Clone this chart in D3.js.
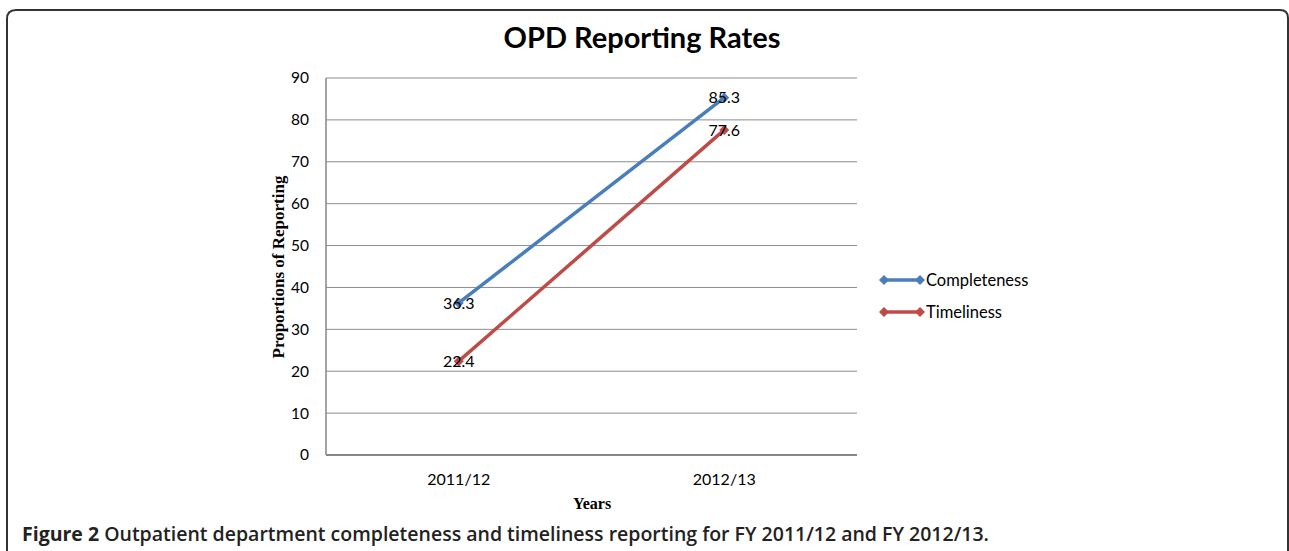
<!DOCTYPE html>
<html>
<head>
<meta charset="utf-8">
<script src="https://cdn.jsdelivr.net/npm/d3@7"></script>
<style>
  body { margin: 0; background: #fff; }
</style>
</head>
<body>
<svg id="chart" width="1289" height="551"></svg>
<script>
// chart data
var years = ["2011/12", "2012/13"];
var seriesNames = ["Completeness", "Timeliness"];
var completeness = [36.3, 85.3];
var timeliness = [22.4, 77.6];
var yTicks = [0, 10, 20, 30, 40, 50, 60, 70, 80, 90];
var colors = ["#4A7EBB", "#BE4B48"];

var svg = d3.select("#chart");
var chartFont = "Lato, Carlito, Calibri, sans-serif";

// frame with rounded top corners, running off the bottom
svg.append("path")
    .attr("d", "M7,560 L7,19 Q7,10 16,10 L1280,10 Q1288,10 1288,18 L1288,560")
    .attr("fill", "none")
    .attr("stroke", "#333")
    .attr("stroke-width", 2);

var margin = { left: 326, right: 857, top: 78, bottom: 455 };

var x = d3.scaleBand()
    .domain(years)
    .range([margin.left, margin.right]);

var y = d3.scaleLinear()
    .domain([0, 90])
    .range([margin.bottom, margin.top]);

// gridlines
svg.append("g")
    .selectAll("line")
    .data(yTicks)
    .enter().append("line")
    .attr("x1", margin.left)
    .attr("x2", margin.right)
    .attr("y1", function (d) { return y(d); })
    .attr("y2", function (d) { return y(d); })
    .attr("stroke", function (d) { return d === 0 ? "#868686" : "#8c8c8c"; })
    .attr("stroke-width", function (d) { return d === 0 ? 2 : 1; });

// y axis line
svg.append("line")
    .attr("x1", margin.left).attr("x2", margin.left)
    .attr("y1", margin.top).attr("y2", margin.bottom)
    .attr("stroke", "#868686")
    .attr("stroke-width", 1.5);

// y tick labels
svg.append("g")
    .selectAll("text")
    .data(yTicks)
    .enter().append("text")
    .attr("x", 309)
    .attr("y", function (d) { return y(d); })
    .attr("dy", "0.35em")
    .attr("text-anchor", "end")
    .style("font-family", chartFont)
    .style("font-size", "15.5px")
    .style("fill", "#000")
    .text(function (d) { return d; });

// x tick labels
svg.append("g")
    .selectAll("text")
    .data(years)
    .enter().append("text")
    .attr("x", function (d) { return x(d) + x.bandwidth() / 2; })
    .attr("y", 485)
    .attr("text-anchor", "middle")
    .style("font-family", chartFont)
    .style("font-size", "16px")
    .text(function (d) { return d; });

// axis titles
svg.append("text")
    .attr("x", 592)
    .attr("y", 509)
    .attr("text-anchor", "middle")
    .style("font-family", "'Liberation Serif', 'Times New Roman', serif")
    .style("font-weight", "bold")
    .style("font-size", "16px")
    .text("Years");

svg.append("text")
    .attr("transform", "translate(284,267) rotate(-90)")
    .attr("text-anchor", "middle")
    .style("font-family", "'Liberation Serif', 'Times New Roman', serif")
    .style("font-weight", "bold")
    .style("font-size", "17px")
    .text("Proportions of Reporting");

// title
svg.append("text")
    .attr("x", 642)
    .attr("y", 48)
    .attr("text-anchor", "middle")
    .style("font-family", chartFont)
    .style("font-weight", "bold")
    .style("font-size", "29px")
    .text("OPD Reporting Rates");

var series = [completeness, timeliness].map(function (vals, i) {
    return {
        name: seriesNames[i],
        color: colors[i],
        points: vals.map(function (v, j) { return { year: years[j], value: v }; })
    };
});

var line = d3.line()
    .x(function (d) { return x(d.year) + x.bandwidth() / 2; })
    .y(function (d) { return y(d.value); });

// square turned 45 degrees, like the office diamond marker
var diamond = d3.symbol().type(d3.symbolSquare).size(50);

series.forEach(function (s) {
    var g = svg.append("g");
    g.append("path")
        .datum(s.points)
        .attr("d", line)
        .attr("fill", "none")
        .attr("stroke", s.color)
        .attr("stroke-width", 3.5);

    g.selectAll(".marker")
        .data(s.points)
        .enter().append("path")
        .attr("class", "marker")
        .attr("d", diamond)
        .attr("transform", function (d) {
            return "translate(" + (x(d.year) + x.bandwidth() / 2) + "," + y(d.value) + ") rotate(45)";
        })
        .attr("fill", s.color);

    g.selectAll(".dataLabel")
        .data(s.points)
        .enter().append("text")
        .attr("class", "dataLabel")
        .attr("x", function (d) { return x(d.year) + x.bandwidth() / 2; })
        .attr("y", function (d) { return y(d.value); })
        .attr("dy", "0.36em")
        .attr("text-anchor", "middle")
        .style("font-family", chartFont)
        .style("font-size", "16px")
        .text(function (d) { return d.value; });
});

// legend
var legend = svg.append("g");
series.forEach(function (s, i) {
    var ly = 280 + i * 32;
    legend.append("line")
        .attr("x1", 884).attr("x2", 920)
        .attr("y1", ly).attr("y2", ly)
        .attr("stroke", s.color)
        .attr("stroke-width", 3.5);
    [884, 920].forEach(function (lx) {
        legend.append("path")
            .attr("d", diamond)
            .attr("transform", "translate(" + lx + "," + ly + ") rotate(45)")
            .attr("fill", s.color);
    });
    legend.append("text")
        .attr("x", 926)
        .attr("y", ly)
        .attr("dy", "0.36em")
        .style("font-family", chartFont)
        .style("font-size", "16.5px")
        .text(s.name);
});

// caption
var caption = svg.append("text")
    .attr("x", 22)
    .attr("y", 541)
    .style("font-family", "'Open Sans', sans-serif")
    .style("font-size", "19.5px")
    .style("fill", "#222");
caption.append("tspan")
    .style("font-weight", "bold")
    .text("Figure 2 ");
caption.append("tspan")
    .style("font-weight", "600")
    .text("Outpatient department completeness and timeliness reporting for FY 2011/12 and FY 2012/13.");
</script>
</body>
</html>
